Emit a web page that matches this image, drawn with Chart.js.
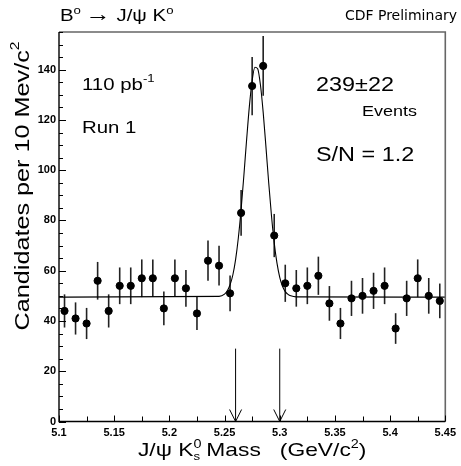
<!DOCTYPE html>
<html>
<head>
<meta charset="utf-8">
<script src="https://cdn.jsdelivr.net/npm/chart.js@4.4.0/dist/chart.umd.min.js"></script>
<style>
  body { margin: 0; background: #fff; }
  #wrap { width: 461px; height: 466px; }
</style>
</head>
<body>
<div id="wrap"><canvas id="myChart" width="461" height="466"></canvas></div>
<script>
// bin centres, 10 MeV bins (GeV/c^2)
const massBins = [5.105, 5.115, 5.125, 5.135, 5.145, 5.155, 5.165, 5.175, 5.185, 5.195,
  5.205, 5.215, 5.225, 5.235, 5.245, 5.255, 5.265, 5.275, 5.285, 5.295,
  5.305, 5.315, 5.325, 5.335, 5.345, 5.355, 5.365, 5.375, 5.385, 5.395,
  5.405, 5.415, 5.425, 5.435, 5.445]
// candidates per bin
const candidates = [44, 41, 39, 56, 44, 54, 54, 57, 57, 45,
  57, 53, 43, 64, 62, 51, 83, 133.5, 141.5, 74,
  55, 53, 54, 58, 47, 39, 49, 50, 52, 54,
  37, 49, 57, 50, 48]
// half length of the error bars
const errors = [6.6, 6.4, 6.2, 7.5, 6.6, 7.3, 7.3, 7.5, 7.5, 6.7,
  7.5, 7.3, 6.6, 8, 7.9, 7.1, 9.1, 11.6, 11.9, 8.6,
  7.4, 7.3, 7.3, 7.6, 6.9, 6.2, 7, 7.1, 7.2, 7.3,
  6.1, 7, 7.5, 7.1, 6.9]

// fitted curve
const fitMass = [5.1, 5.245, 5.25, 5.2525, 5.255, 5.2575, 5.26, 5.2625, 5.265, 5.2675,
  5.27, 5.2725, 5.275, 5.2775, 5.28, 5.2825, 5.285, 5.2875, 5.29, 5.2925,
  5.295, 5.2975, 5.3, 5.3025, 5.305, 5.3075, 5.31, 5.315, 5.45]
const fitValue = [49.5, 49.8, 50.7, 52.0, 54.4, 58.3, 64.4, 73.1, 84.4, 97.9,
  112.2, 125.5, 135.7, 141.0, 140.4, 134.0, 123.0, 109.3, 95.0, 82.0,
  71.1, 63.0, 57.4, 53.8, 51.7, 50.6, 50.0, 49.6, 49.5]

// signal window arrows
const cutMass = [5.26, 5.30]
const arrowTop = 29

const xTickValues = [5.1, 5.15, 5.2, 5.25, 5.3, 5.35, 5.4, 5.45]
const xTickLabels = ['5.1', '5.15', '5.2', '5.25', '5.3', '5.35', '5.4', '5.45']
const yTickValues = [0, 20, 40, 60, 80, 100, 120, 140]
const yTickLabels = ['0', '20', '40', '60', '80', '100', '120', '140']

const FONT = '"Liberation Sans", Arial, Helvetica, sans-serif'
const STRETCH = 1.2

// a row of text pieces: [text, size, dy, advance]
function richWidth(ctx, parts) {
  let w = 0
  parts.forEach(p => {
    ctx.font = p[1] + 'px ' + FONT
    if (p[3] !== false) w += ctx.measureText(p[0]).width
  })
  return w * STRETCH
}
function drawRich(ctx, x, y, parts) {
  ctx.save()
  ctx.translate(x, y)
  ctx.scale(STRETCH, 1)
  ctx.textAlign = 'left'
  ctx.textBaseline = 'alphabetic'
  ctx.fillStyle = '#000'
  let cx = 0
  parts.forEach(p => {
    ctx.font = p[1] + 'px ' + FONT
    ctx.fillText(p[0], cx, p[2])
    if (p[3] !== false) cx += ctx.measureText(p[0]).width
  })
  ctx.restore()
}

const decor = {
  id: 'decor',
  beforeDatasetsDraw(chart) {
    const { ctx, scales: { x, y } } = chart
    ctx.save()
    ctx.strokeStyle = '#222'
    ctx.lineWidth = 1.6
    massBins.forEach((m, i) => {
      const px = x.getPixelForValue(m)
      ctx.beginPath()
      ctx.moveTo(px, y.getPixelForValue(candidates[i] - errors[i]))
      ctx.lineTo(px, y.getPixelForValue(candidates[i] + errors[i]))
      ctx.stroke()
    })
    ctx.restore()
  },
  afterDraw(chart) {
    const { ctx, chartArea: a, scales: { x, y } } = chart
    ctx.save()
    // frame
    ctx.lineWidth = 1.6
    ctx.strokeStyle = '#666'
    ctx.beginPath()
    ctx.moveTo(a.left, a.top); ctx.lineTo(a.right, a.top); ctx.lineTo(a.right, a.bottom)
    ctx.stroke()
    ctx.strokeStyle = '#000'
    ctx.lineWidth = 1.4
    ctx.beginPath()
    ctx.moveTo(a.left, a.top); ctx.lineTo(a.left, a.bottom); ctx.lineTo(a.right, a.bottom)
    ctx.stroke()

    // tick marks, pointing inward
    ctx.lineWidth = 1
    ctx.beginPath()
    for (let v = 0; v <= 155; v += 5) {
      const py = Math.round(y.getPixelForValue(v)) + 0.5
      const len = v % 20 === 0 ? 7 : 4
      ctx.moveTo(a.left, py); ctx.lineTo(a.left + len, py)
    }
    for (let k = 0; k <= 14; k++) {
      const px = Math.round(x.getPixelForValue(5.1 + k * 0.025)) + 0.5
      const len = k % 2 === 0 ? 6 : 5
      ctx.moveTo(px, a.bottom); ctx.lineTo(px, a.bottom - len)
    }
    ctx.stroke()

    // arrows
    ctx.lineWidth = 1
    cutMass.forEach(m => {
      const px = x.getPixelForValue(m)
      const tip = y.getPixelForValue(0)
      ctx.beginPath()
      ctx.moveTo(px, y.getPixelForValue(arrowTop)); ctx.lineTo(px, tip)
      ctx.moveTo(px - 6, tip - 12); ctx.lineTo(px, tip); ctx.lineTo(px + 6, tip - 12)
      ctx.stroke()
    })

    // title and labels
    drawRich(ctx, 60, 21, [['B', 17, 0], ['o', 11, -7], [' ', 14, 0], ['\u2192', 21, 0], [' J/\u03c8 K', 17, 0], ['o', 11, -7]])
    ctx.font = '14px "DejaVu Sans", sans-serif'
    ctx.fillStyle = '#000'
    ctx.textAlign = 'right'
    ctx.fillText('CDF Preliminary', 457, 20)

    drawRich(ctx, 82, 90, [['110 pb', 17, 0], ['-1', 11, -8]])
    drawRich(ctx, 82, 133, [['Run 1', 17, 0]])
    drawRich(ctx, 316, 91, [['239\u00b122', 19.5, 0]])
    drawRich(ctx, 362, 116, [['Events', 15, 0]])
    drawRich(ctx, 316, 161, [['S/N = 1.2', 19.5, 0]])

    const xt = [['J/\u03c8 K', 19, 0], ['0', 12, -8, false], ['s', 11, 4], [' Mass   (GeV/c', 19, 0], ['2', 12, -8], [')', 19, 0]]
    drawRich(ctx, (a.left + a.right) / 2 - richWidth(ctx, xt) / 2, 456, xt)

    const yt = [['Candidates per 10 Mev/c', 21, 0], ['2', 13, -10]]
    ctx.save()
    ctx.translate(29, 186)
    ctx.rotate(-Math.PI / 2)
    drawRich(ctx, -richWidth(ctx, yt) / 2, 0, yt)
    ctx.restore()
    ctx.restore()
  }
}

const ctx = document.getElementById('myChart').getContext('2d')
const myChart = new Chart(ctx, {
  type: 'scatter',
  data: {
    datasets: [{
      label: 'data',
      data: massBins.map((m, i) => ({ x: m, y: candidates[i] })),
      backgroundColor: '#000',
      borderColor: '#000',
      pointRadius: 3.6,
      pointHoverRadius: 3.6,
      order: 1
    }, {
      label: 'fit',
      type: 'line',
      data: fitMass.map((m, i) => ({ x: m, y: fitValue[i] })),
      borderColor: '#000',
      borderWidth: 1.1,
      pointRadius: 0,
      fill: false,
      cubicInterpolationMode: 'monotone',
      order: 2
    }]
  },
  options: {
    responsive: false,
    animation: false,
    layout: { padding: { top: 32, right: 10, left: 0, bottom: 0 } },
    plugins: { legend: { display: false }, tooltip: { enabled: false } },
    scales: {
      x: {
        type: 'linear', min: 5.1, max: 5.45,
        grid: { display: false, drawTicks: false }, border: { display: false },
        afterBuildTicks: s => { s.ticks = xTickValues.map(v => ({ value: v })) },
        afterFit: s => { s.height = 44.5 },
        ticks: {
          autoSkip: false, maxRotation: 0, padding: 5, color: '#000',
          font: { family: FONT, size: 11, weight: 'bold' },
          callback: (v, i) => xTickLabels[i]
        }
      },
      y: {
        min: 0, max: 155,
        grid: { display: false, drawTicks: false }, border: { display: false },
        afterBuildTicks: s => { s.ticks = yTickValues.map(v => ({ value: v })) },
        afterFit: s => { s.width = 59 },
        ticks: {
          padding: 3, color: '#000',
          font: { family: FONT, size: 11, weight: 'bold' },
          callback: (v, i) => yTickLabels[i]
        }
      }
    }
  },
  plugins: [decor]
})
</script>
</body>
</html>
